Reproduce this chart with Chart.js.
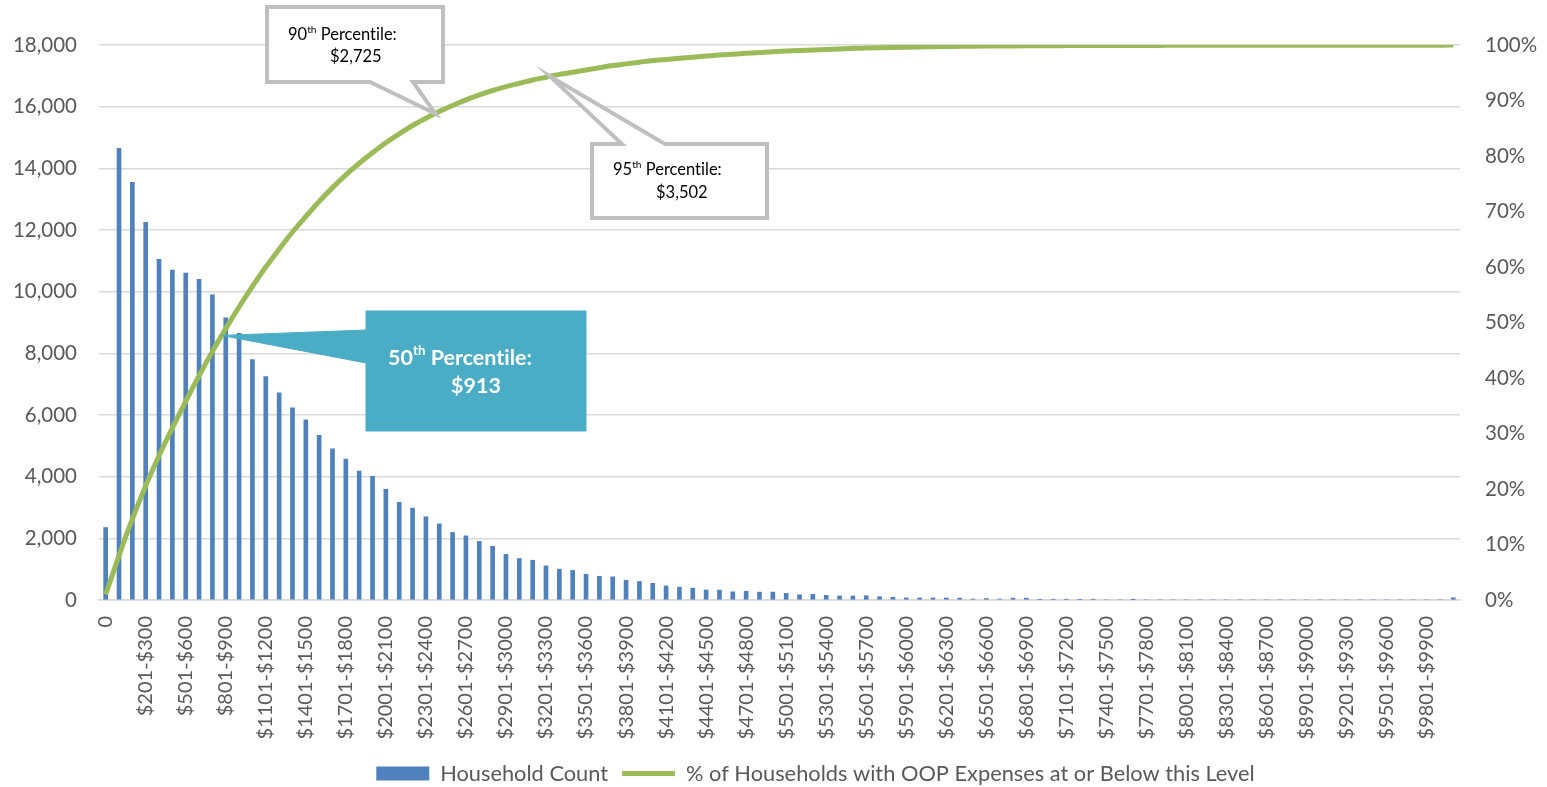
<!DOCTYPE html>
<html>
<head>
<meta charset="utf-8">
<title>Household OOP Expenses</title>
<script src="https://cdn.jsdelivr.net/npm/chart.js@4.4.1/dist/chart.umd.min.js"></script>
<style>
  html, body { margin: 0; padding: 0; background: #ffffff; }
  #wrap { width: 1547px; height: 787px; position: relative; }
</style>
</head>
<body>
<div id="wrap"><canvas id="chart" width="1547" height="787"></canvas></div>
<script>
// Out-of-pocket expense bands ($100 wide)
const categories = [
  '0', '$1-$100', '$101-$200', '$201-$300', '$301-$400', '$401-$500', '$501-$600', '$601-$700', '$701-$800', '$801-$900',
  '$901-$1000', '$1001-$1100', '$1101-$1200', '$1201-$1300', '$1301-$1400', '$1401-$1500', '$1501-$1600', '$1601-$1700', '$1701-$1800', '$1801-$1900',
  '$1901-$2000', '$2001-$2100', '$2101-$2200', '$2201-$2300', '$2301-$2400', '$2401-$2500', '$2501-$2600', '$2601-$2700', '$2701-$2800', '$2801-$2900',
  '$2901-$3000', '$3001-$3100', '$3101-$3200', '$3201-$3300', '$3301-$3400', '$3401-$3500', '$3501-$3600', '$3601-$3700', '$3701-$3800', '$3801-$3900',
  '$3901-$4000', '$4001-$4100', '$4101-$4200', '$4201-$4300', '$4301-$4400', '$4401-$4500', '$4501-$4600', '$4601-$4700', '$4701-$4800', '$4801-$4900',
  '$4901-$5000', '$5001-$5100', '$5101-$5200', '$5201-$5300', '$5301-$5400', '$5401-$5500', '$5501-$5600', '$5601-$5700', '$5701-$5800', '$5801-$5900',
  '$5901-$6000', '$6001-$6100', '$6101-$6200', '$6201-$6300', '$6301-$6400', '$6401-$6500', '$6501-$6600', '$6601-$6700', '$6701-$6800', '$6801-$6900',
  '$6901-$7000', '$7001-$7100', '$7101-$7200', '$7201-$7300', '$7301-$7400', '$7401-$7500', '$7501-$7600', '$7601-$7700', '$7701-$7800', '$7801-$7900',
  '$7901-$8000', '$8001-$8100', '$8101-$8200', '$8201-$8300', '$8301-$8400', '$8401-$8500', '$8501-$8600', '$8601-$8700', '$8701-$8800', '$8801-$8900',
  '$8901-$9000', '$9001-$9100', '$9101-$9200', '$9201-$9300', '$9301-$9400', '$9401-$9500', '$9501-$9600', '$9601-$9700', '$9701-$9800', '$9801-$9900',
  '$9901-$10000', '$10001+'
];

// Number of households in each band
const householdCount = [
  2350, 14650, 13550, 12250, 11050, 10700, 10600, 10400, 9900, 9150,
  8650, 7800, 7250, 6720, 6230, 5840, 5340, 4900, 4570, 4180,
  4010, 3590, 3170, 2980, 2700, 2470, 2190, 2080, 1900, 1740,
  1480, 1345, 1290, 1105, 1000, 960, 835, 770, 750, 640,
  600, 540, 455, 415, 385, 325, 322, 265, 285, 255,
  257, 215, 168, 185, 150, 130, 128, 138, 108, 90,
  68, 65, 65, 65, 62, 32, 48, 32, 60, 58,
  18, 18, 18, 18, 18, 0, 0, 15, 0, 0,
  0, 0, 0, 0, 0, 0, 0, 0, 0, 0,
  0, 0, 0, 0, 0, 0, 0, 0, 0, 0,
  0, 70
];

// Share of households (%) with expenses at or below each band
const cumulativePct = [
  1.0, 8.0, 14.6, 20.6, 26.0, 31.0, 35.8, 40.4, 44.8, 48.9,
  52.8, 56.5, 60.0, 63.2, 66.3, 69.1, 71.8, 74.3, 76.6, 78.7,
  80.6, 82.4, 84.0, 85.5, 86.8, 88.0, 89.1, 90.1, 91.0, 91.8,
  92.5, 93.1, 93.7, 94.2, 94.7, 95.1, 95.5, 95.9, 96.3, 96.6,
  96.9, 97.2, 97.4, 97.6, 97.8, 98.0, 98.2, 98.35, 98.5, 98.65,
  98.8, 98.9, 99.0, 99.1, 99.2, 99.3, 99.4, 99.45, 99.5, 99.55,
  99.6, 99.65, 99.7, 99.73, 99.76, 99.78, 99.8, 99.82, 99.84, 99.86,
  99.87, 99.88, 99.89, 99.9, 99.91, 99.91, 99.91, 99.92, 99.93, 99.93,
  99.94, 99.94, 99.94, 99.95, 99.95, 99.95, 99.95, 99.95, 99.95, 99.95,
  99.95, 99.95, 99.95, 99.95, 99.95, 99.95, 99.95, 99.95, 99.95, 99.95,
  99.95, 100
];

// Axis ticks
const countTicks = [0, 2000, 4000, 6000, 8000, 10000, 12000, 14000, 16000, 18000];
const pctTicks = [0, 10, 20, 30, 40, 50, 60, 70, 80, 90, 100];

// Percentile call-outs
const percentileRanks = ['50', '90', '95'];
const percentileAmounts = ['$913', '$2,725', '$3,502'];

const FONT = 'Lato, "Open Sans", sans-serif';
const GREY_TEXT = '#595959';

// Call-out styling and placement (box offsets are relative to the chart area)
const calloutStyles = [
  { at: 8.7, fill: '#4BACC6', stroke: '#4BACC6', lineWidth: 1, color: '#ffffff', weight: 'bold', size: 21.5,
    box: { x: 267, y: 266, w: 220, h: 120 }, tail: { side: 'left', from: 19, to: 52 },
    l1: { dx: 22, dy: 47 }, l2: { dx: 85, dy: 75 } },
  { at: 24.7, fill: '#ffffff', stroke: '#BFBFBF', lineWidth: 4, color: '#000000', weight: 'normal', size: 16.5,
    box: { x: 168, y: -38, w: 176, h: 75 }, tail: { side: 'bottom', from: 103, to: 146 },
    l1: { dx: 21, dy: 28 }, l2: { dx: 63, dy: 50 } },
  { at: 33.3, fill: '#ffffff', stroke: '#BFBFBF', lineWidth: 4, color: '#000000', weight: 'normal', size: 16.5,
    box: { x: 493, y: 99, w: 175, h: 74 }, tail: { side: 'top', from: 30, to: 73 },
    l1: { dx: 21, dy: 26 }, l2: { dx: 64, dy: 49 } }
];

function curveValueAt(pos) {
  const i = Math.floor(pos);
  const f = pos - i;
  return cumulativePct[i] + f * (cumulativePct[i + 1] - cumulativePct[i]);
}

function calloutPath(ctx, b, t, tip) {
  ctx.beginPath();
  if (t.side === 'left') {
    ctx.moveTo(b.x, b.y);
    ctx.lineTo(b.x + b.w, b.y);
    ctx.lineTo(b.x + b.w, b.y + b.h);
    ctx.lineTo(b.x, b.y + b.h);
    ctx.lineTo(b.x, b.y + t.to);
    ctx.lineTo(tip.x, tip.y);
    ctx.lineTo(b.x, b.y + t.from);
  } else if (t.side === 'bottom') {
    ctx.moveTo(b.x, b.y);
    ctx.lineTo(b.x + b.w, b.y);
    ctx.lineTo(b.x + b.w, b.y + b.h);
    ctx.lineTo(b.x + t.to, b.y + b.h);
    ctx.lineTo(tip.x, tip.y);
    ctx.lineTo(b.x + t.from, b.y + b.h);
    ctx.lineTo(b.x, b.y + b.h);
  } else {
    ctx.moveTo(b.x, b.y);
    ctx.lineTo(b.x + t.from, b.y);
    ctx.lineTo(tip.x, tip.y);
    ctx.lineTo(b.x + t.to, b.y);
    ctx.lineTo(b.x + b.w, b.y);
    ctx.lineTo(b.x + b.w, b.y + b.h);
    ctx.lineTo(b.x, b.y + b.h);
  }
  ctx.closePath();
}

const percentileCallouts = {
  id: 'percentileCallouts',
  afterDatasetsDraw(chart) {
    const { ctx, chartArea } = chart;
    const xScale = chart.scales.x;
    const pScale = chart.scales.y1;
    calloutStyles.forEach((s, k) => {
      const tip = { x: xScale.getPixelForValue(s.at), y: pScale.getPixelForValue(curveValueAt(s.at)) };
      const b = { x: chartArea.left + s.box.x, y: chartArea.top + s.box.y, w: s.box.w, h: s.box.h };
      ctx.save();
      ctx.lineJoin = 'miter';
      calloutPath(ctx, b, s.tail, tip);
      ctx.fillStyle = s.fill;
      ctx.fill();
      ctx.lineWidth = s.lineWidth;
      ctx.strokeStyle = s.stroke;
      ctx.stroke();

      ctx.fillStyle = s.color;
      ctx.textBaseline = 'middle';
      ctx.textAlign = 'left';
      if ('textRendering' in ctx) ctx.textRendering = 'optimizeSpeed';
      let x = b.x + s.l1.dx;
      const y = b.y + s.l1.dy;
      ctx.font = `${s.weight} ${s.size}px ${FONT}`;
      ctx.fillText(percentileRanks[k], x, y);
      x += ctx.measureText(percentileRanks[k]).width;
      ctx.font = `${s.weight} ${s.size * 0.62}px ${FONT}`;
      ctx.fillText('th', x, y - s.size * 0.32);
      x += ctx.measureText('th').width;
      ctx.font = `${s.weight} ${s.size}px ${FONT}`;
      ctx.fillText(' Percentile:', x, y);
      ctx.fillText(percentileAmounts[k], b.x + s.l2.dx, b.y + s.l2.dy);
      ctx.restore();
    });
  }
};

// Centre the legend row under the plotted series rather than the full canvas
const legendOffset = {
  id: 'legendOffset',
  afterLayout(chart) {
    if (chart.legend) {
      chart.legend.left += 42;
      chart.legend.right += 42;
    }
  }
};

new Chart(document.getElementById('chart'), {
  type: 'bar',
  data: {
    labels: categories,
    datasets: [
      {
        type: 'bar',
        label: 'Household Count',
        data: householdCount,
        backgroundColor: '#4F81BD',
        barThickness: 4,
        yAxisID: 'y',
        order: 2
      },
      {
        type: 'line',
        label: '% of Households with OOP Expenses at or Below this Level',
        data: cumulativePct,
        borderColor: '#9BBB59',
        backgroundColor: '#9BBB59',
        borderWidth: 5,
        pointRadius: 0,
        cubicInterpolationMode: 'monotone',
        yAxisID: 'y1',
        order: 1
      }
    ]
  },
  options: {
    responsive: false,
    animation: false,
    devicePixelRatio: 1,
    layout: { padding: { top: 45, left: 0, right: 0, bottom: -7.5 } },
    plugins: {
      tooltip: { enabled: false },
      legend: {
        position: 'bottom',
        labels: {
          usePointStyle: true,
          pointStyleWidth: 53,
          boxHeight: 14,
          padding: 14,
          color: GREY_TEXT,
          font: { family: FONT, size: 21.8 },
          generateLabels(chart) {
            return chart.data.datasets.map((ds, i) => ({
              text: ds.label,
              fillStyle: ds.type === 'bar' ? ds.backgroundColor : 'rgba(0,0,0,0)',
              strokeStyle: ds.type === 'bar' ? ds.backgroundColor : ds.borderColor,
              lineWidth: ds.type === 'bar' ? 0 : 5,
              pointStyle: ds.type === 'bar' ? 'rect' : 'line',
              fontColor: GREY_TEXT,
              hidden: false,
              datasetIndex: i
            }));
          }
        }
      }
    },
    scales: {
      x: {
        grid: { display: false, drawTicks: false },
        border: { display: true, color: '#D9D9D9', width: 1.5 },
        ticks: {
          autoSkip: false,
          minRotation: 90,
          maxRotation: 90,
          padding: 16,
          color: GREY_TEXT,
          font: { family: FONT, size: 20 },
          callback(value, index) { return index % 3 === 0 ? categories[index] : ''; }
        },
        afterFit(scale) { scale.height = 148.7; }
      },
      y: {
        position: 'left',
        min: 0,
        max: 18000,
        grid: { color: '#D9D9D9', lineWidth: 1.5, drawTicks: false },
        border: { display: false },
        ticks: { padding: 22, color: GREY_TEXT, font: { family: FONT, size: 20.5 } },
        afterBuildTicks(scale) { scale.ticks = countTicks.map(v => ({ value: v })); },
        afterFit(scale) { scale.width = 99; }
      },
      y1: {
        position: 'right',
        min: 0,
        max: 100,
        grid: { display: false, drawTicks: false },
        border: { display: false },
        ticks: { padding: 25, color: GREY_TEXT, font: { family: FONT, size: 20.5 }, callback: v => v + '%' },
        afterBuildTicks(scale) { scale.ticks = pctTicks.map(v => ({ value: v })); },
        afterFit(scale) { scale.width = 87; }
      }
    }
  },
  plugins: [percentileCallouts, legendOffset]
});
</script>
</body>
</html>
